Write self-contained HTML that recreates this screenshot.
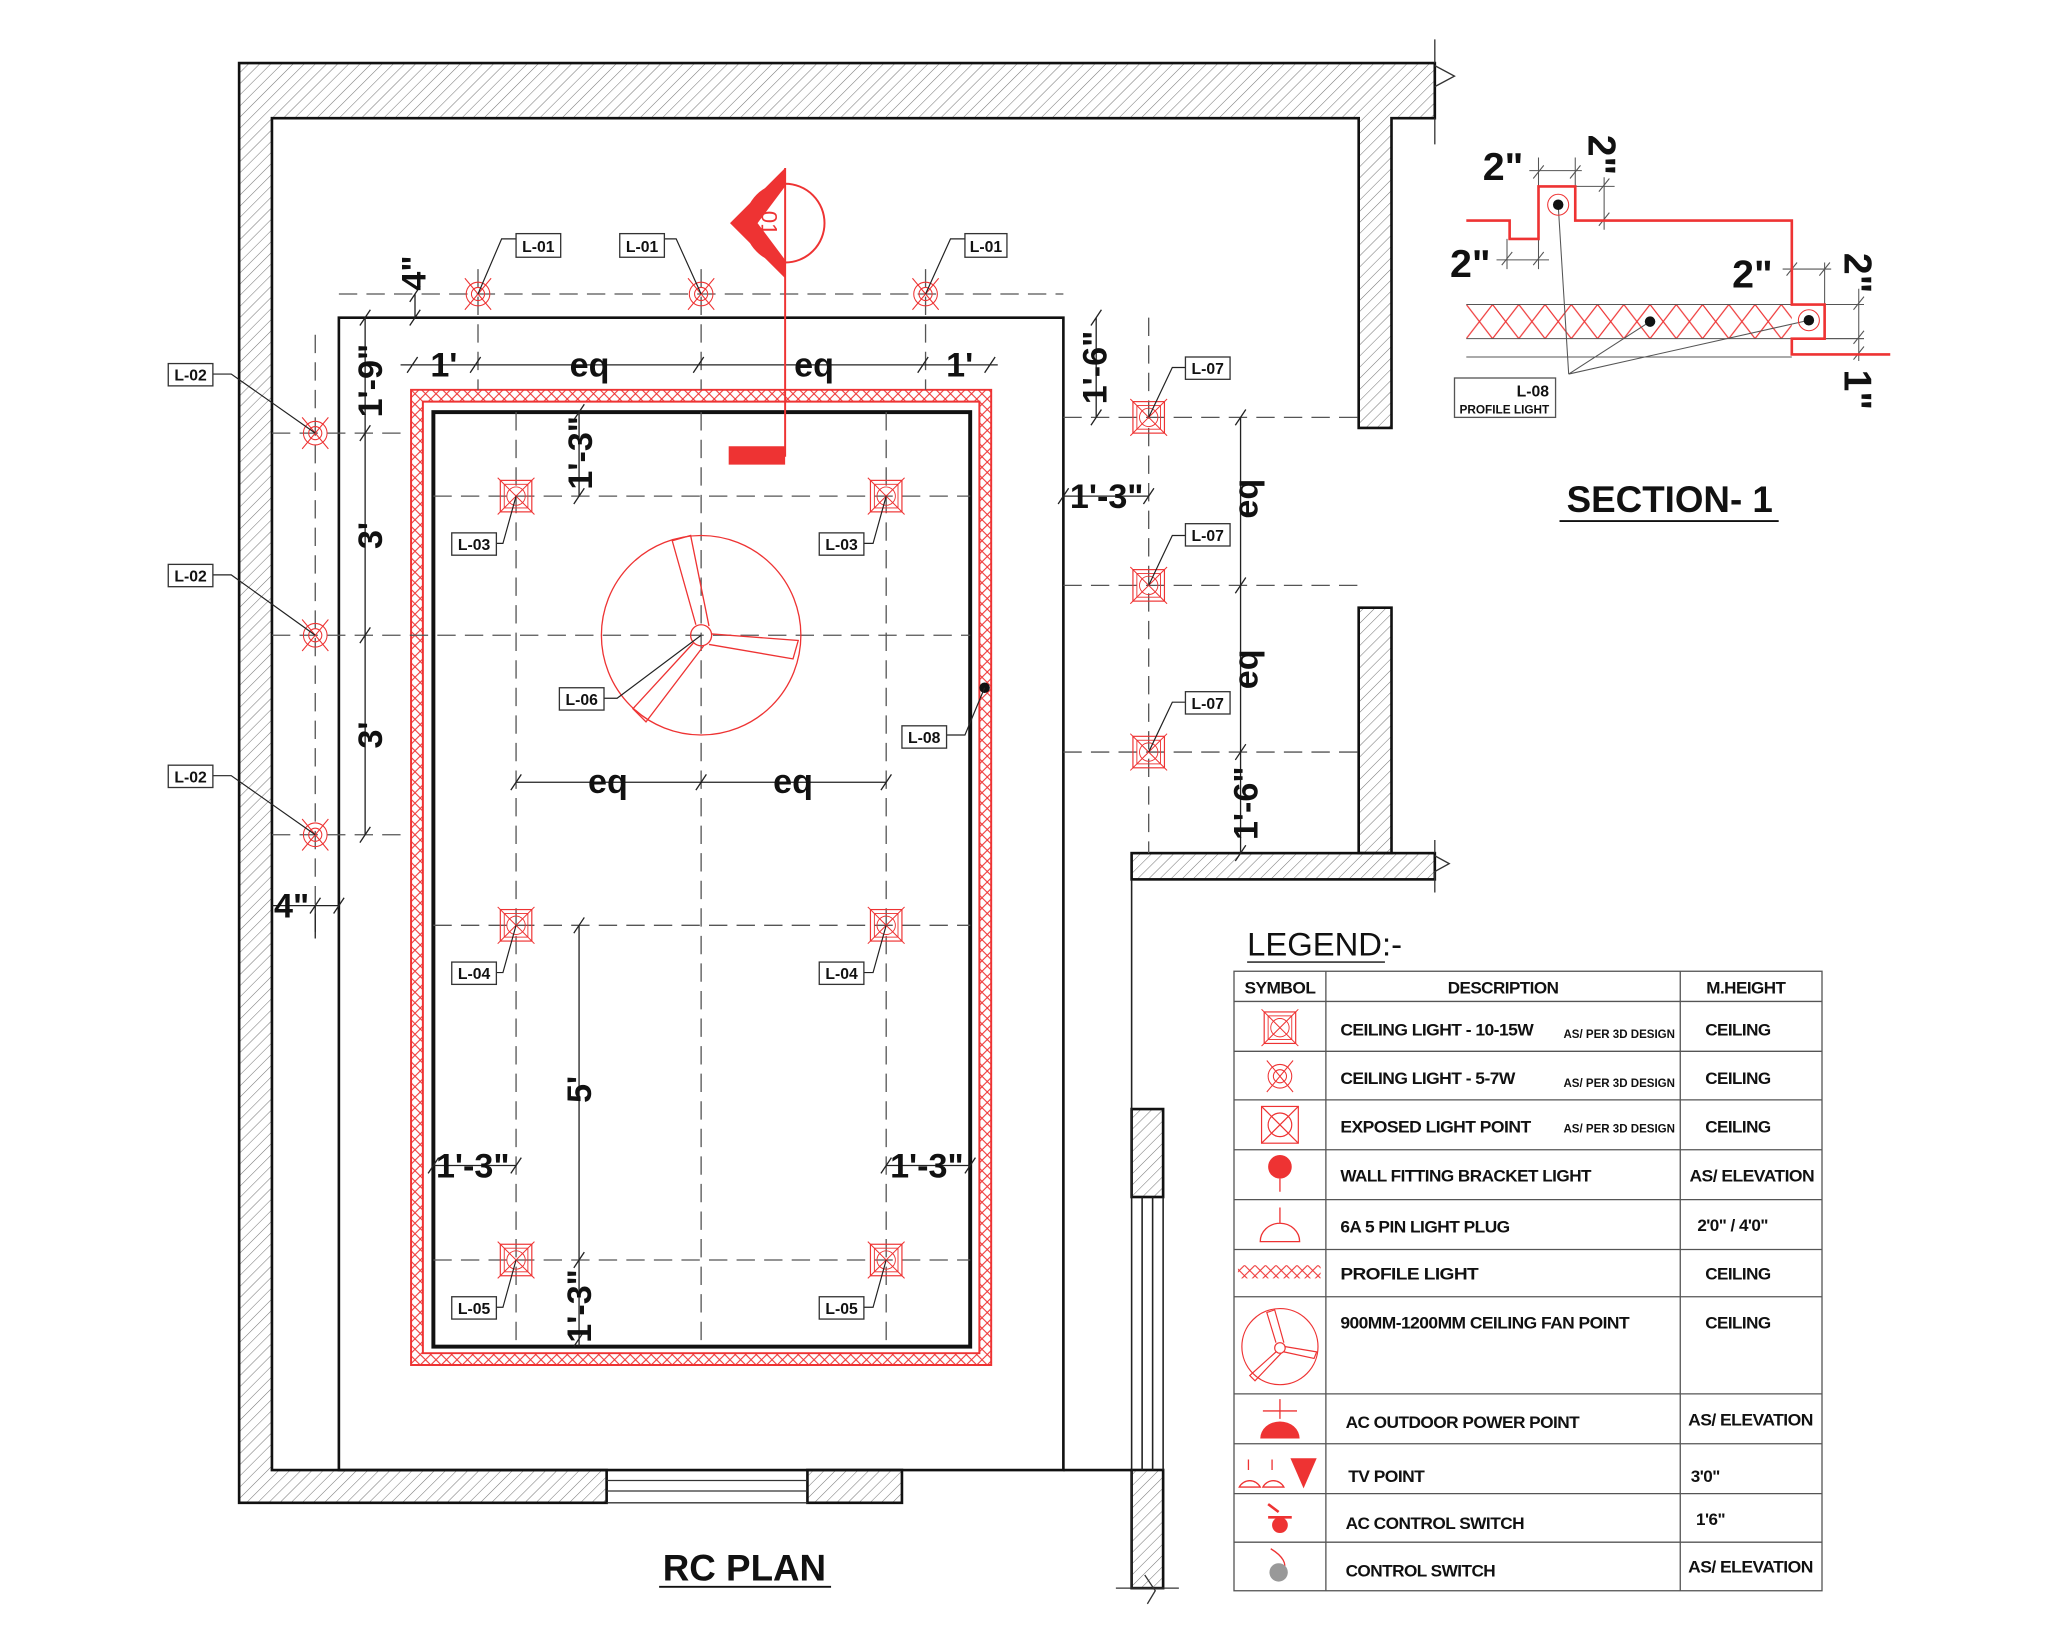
<!DOCTYPE html>
<html><head><meta charset="utf-8"><style>
html,body{margin:0;padding:0;background:#fff}
svg{display:block}
text{font-family:"Liberation Sans",Arial,sans-serif;font-weight:bold;fill:#111}
.d{font-size:26px}
.l{font-size:12px;font-weight:normal}
.t{font-size:13px;letter-spacing:-0.4px}
</style></head><body>
<svg width="2048" height="1638" viewBox="0 0 1560 1248" xmlns="http://www.w3.org/2000/svg">
<defs>
<pattern id="h" width="6" height="6" patternUnits="userSpaceOnUse" patternTransform="rotate(45)">
<line x1="0" y1="0" x2="0" y2="6" stroke="#777" stroke-width="0.8"/></pattern>
<pattern id="x" width="8" height="8" patternUnits="userSpaceOnUse">
<path d="M0 0L8 8M8 0L0 8" stroke="#e33" stroke-width="0.8"/></pattern>
<pattern id="x2" width="20" height="26" patternUnits="userSpaceOnUse" x="1117" y="232">
<path d="M0 0L20 26M20 0L0 26" stroke="#e33" stroke-width="0.9"/></pattern>
<g id="c"><circle r="5" fill="none" stroke="#e33" stroke-width="0.8"/><circle r="9" fill="none" stroke="#e33" stroke-width="0.8"/><path d="M-10 -12L10 12M10 -12L-10 12" stroke="#e33" stroke-width="0.8"/></g>
<g id="s"><rect x="-12" y="-12" width="24" height="24" fill="none" stroke="#e33" stroke-width="0.9"/><rect x="-9" y="-9" width="18" height="18" fill="none" stroke="#e33" stroke-width="0.7"/><circle r="7" fill="none" stroke="#e33" stroke-width="0.7"/><path d="M-14 -14L14 14M14 -14L-14 14" stroke="#e33" stroke-width="0.8"/></g>
</defs>
<rect width="1560" height="1248" fill="#fff"/>
<g fill="url(#h)" stroke="#111" stroke-width="2">
<path d="M182 48H1093V90H1060V326H1035V90H207V1120H462V1145H182Z"/>
<rect x="615" y="1120" width="72" height="25"/>
<rect x="1035" y="463" width="25" height="187"/>
<rect x="862" y="650" width="231" height="20"/>
<rect x="862" y="845" width="24" height="67"/>
<rect x="862" y="1120" width="24" height="90"/>
</g>
<path d="M1093 30V48M1093 50L1108 58L1093 66M1093 90V110M1093 640V650M1093 652L1104 658L1093 664V680" stroke="#333" fill="none" stroke-width="1"/>
<path d="M462 1120H615M462 1128H615M462 1136H615M462 1145H615" stroke="#333" stroke-width="1"/>
<path d="M862 670V1210M870 912V1120M878 912V1120M886 912V1120" stroke="#222" stroke-width="1.2"/>
<path d="M850 1210H898M872 1200L880 1212L874 1222" stroke="#333" fill="none" stroke-width="1"/>
<path d="M258 242H810V1120H258Z" fill="none" stroke="#111" stroke-width="2"/>
<path d="M810 1120H862" stroke="#111" stroke-width="2"/>
<path d="M313 297H755V1040H313Z M322 306V1031H746V306Z" fill="url(#x)" fill-rule="evenodd" stroke="#e33" stroke-width="1.5"/>
<rect x="330" y="314" width="409" height="712" fill="none" stroke="#111" stroke-width="3"/>
<g stroke="#555" stroke-width="1" stroke-dasharray="14 7" fill="none">
<path d="M393 314V1026M534 314V1026M675 314V1026"/>
<path d="M330 378H739M207 484H739M330 705H739M330 960H739"/>
<path d="M258 224H810M240 255V715M207 330H310M207 636H310"/>
<path d="M810 318H1035M810 446H1035M810 573H1035M875 242V650"/>
<path d="M364 205V297M534 205V297M705 205V297"/>
</g>
<g stroke="#222" stroke-width="1" fill="none">
<path d="M305 278H760M278 242V636M441 705V1026M945 318V650M393 596H675M441 314V378M330 888H393M675 888H739M810 378H875M835 242V318M316 224V242M207 690H258M240 690V715"/>
<path d="M358 284l8-12M528 284l8-12M699 284l8-12M750 284l8-12M310 284l8-12M274 248l8-12M274 336l8-12M274 490l8-12M274 642l8-12M437 711l8-12M437 966l8-12M437 1026l8-12M437 320l8-12M437 384l8-12M941 324l8-12M941 452l8-12M941 579l8-12M941 656l8-12M389 602l8-12M530 602l8-12M671 602l8-12M326 894l8-12M389 894l8-12M671 894l8-12M735 894l8-12M806 384l8-12M871 384l8-12M831 248l8-12M831 324l8-12M312 230l8-12M312 248l8-12M236 696l8-12M254 696l8-12"/>
</g>
<g class="d">
<text x="338" y="287" text-anchor="middle">1'</text>
<text x="449" y="287" text-anchor="middle">eq</text>
<text x="620" y="287" text-anchor="middle">eq</text>
<text x="731" y="287" text-anchor="middle">1'</text>
<text x="463" y="604" text-anchor="middle">eq</text>
<text x="604" y="604" text-anchor="middle">eq</text>
<text x="360" y="897" text-anchor="middle">1'-3"</text>
<text x="706" y="897" text-anchor="middle">1'-3"</text>
<text x="843" y="387" text-anchor="middle">1'-3"</text>
<text x="222" y="699" text-anchor="middle">4"</text>
<text transform="translate(324,208) rotate(-90)" text-anchor="middle">4"</text>
<text transform="translate(291,290) rotate(-90)" text-anchor="middle">1'-9"</text>
<text transform="translate(291,408) rotate(-90)" text-anchor="middle">3'</text>
<text transform="translate(291,560) rotate(-90)" text-anchor="middle">3'</text>
<text transform="translate(451,345) rotate(-90)" text-anchor="middle">1'-3"</text>
<text transform="translate(843,280) rotate(-90)" text-anchor="middle">1'-6"</text>
<text transform="translate(958,380) rotate(-90)" text-anchor="middle">eq</text>
<text transform="translate(958,510) rotate(-90)" text-anchor="middle">eq</text>
<text transform="translate(958,612) rotate(-90)" text-anchor="middle">1'-6"</text>
<text transform="translate(450,830) rotate(-90)" text-anchor="middle">5'</text>
<text transform="translate(450,995) rotate(-90)" text-anchor="middle">1'-3"</text>
</g>
<use href="#c" x="364" y="224"/><use href="#c" x="534" y="224"/><use href="#c" x="705" y="224"/>
<use href="#c" x="240" y="330"/><use href="#c" x="240" y="484"/><use href="#c" x="240" y="636"/>
<use href="#s" x="393" y="378"/><use href="#s" x="675" y="378"/>
<use href="#s" x="393" y="705"/><use href="#s" x="675" y="705"/>
<use href="#s" x="393" y="960"/><use href="#s" x="675" y="960"/>
<use href="#s" x="875" y="318"/><use href="#s" x="875" y="446"/><use href="#s" x="875" y="573"/>
<g stroke="#e33" stroke-width="1" fill="none">
<circle cx="534" cy="484" r="76"/><circle cx="534" cy="484" r="8"/>
<path d="M530 476L512 412L526 408L540 477"/>
<path d="M542 483L608 488L604 502L540 491"/>
<path d="M528 490L482 540L492 550L536 492"/>
</g>
<circle cx="598" cy="170" r="30" fill="none" stroke="#e33" stroke-width="1.5"/>
<path d="M598 128L598 212L556 170Z M598 142L598 198L577 170Z" fill="#e33" fill-rule="evenodd"/>
<path d="M598 128V348" stroke="#e33" stroke-width="1.5"/>
<rect x="555" y="340" width="43" height="14" fill="#e33"/>
<text transform="translate(580,170) rotate(90)" text-anchor="middle" style="font-size:17px;fill:#e33;font-weight:normal">01</text>
<circle cx="750" cy="524" r="4" fill="#111"/>
<g stroke="#222" stroke-width="0.9" fill="none">
<path d="M364 224L382 182H393M534 224L515 182H506M705 224L724 182H735"/>
<path d="M240 330L176 285H162M240 484L176 438H162M240 636L176 591H162"/>
<path d="M875 318L893 280H903M875 446L893 408H903M875 573L893 535H903"/>
<path d="M393 378L383 414H378M675 378L665 414H658M393 705L383 741H378M675 705L665 741H658M393 960L383 996H378M675 960L665 996H658"/>
<path d="M534 484L470 532H460M750 524L735 560H721"/>
</g>
<g fill="#fff" stroke="#333" stroke-width="1">
<rect x="393" y="178" width="34" height="18"/><rect x="472" y="178" width="34" height="18"/><rect x="735" y="178" width="32" height="18"/>
<rect x="128" y="277" width="34" height="17"/><rect x="128" y="430" width="34" height="17"/><rect x="128" y="583" width="34" height="17"/>
<rect x="903" y="272" width="34" height="17"/><rect x="903" y="399" width="34" height="17"/><rect x="903" y="527" width="34" height="17"/>
<rect x="344" y="406" width="34" height="17"/><rect x="624" y="406" width="34" height="17"/>
<rect x="344" y="733" width="34" height="17"/><rect x="624" y="733" width="34" height="17"/>
<rect x="344" y="988" width="34" height="17"/><rect x="624" y="988" width="34" height="17"/>
<rect x="426" y="524" width="34" height="17"/><rect x="687" y="553" width="34" height="17"/>
</g>
<g class="l" text-anchor="middle">
<text x="410" y="192">L-01</text><text x="489" y="192">L-01</text><text x="751" y="192">L-01</text>
<text x="145" y="290">L-02</text><text x="145" y="443">L-02</text><text x="145" y="596">L-02</text>
<text x="920" y="285">L-07</text><text x="920" y="412">L-07</text><text x="920" y="540">L-07</text>
<text x="361" y="419">L-03</text><text x="641" y="419">L-03</text>
<text x="361" y="746">L-04</text><text x="641" y="746">L-04</text>
<text x="361" y="1001">L-05</text><text x="641" y="1001">L-05</text>
<text x="443" y="537">L-06</text><text x="704" y="566">L-08</text>
</g>
<text x="567" y="1204" text-anchor="middle" style="font-size:28px">RC PLAN</text>
<path d="M502 1209H633" stroke="#111" stroke-width="1.5"/>
<rect x="1117" y="232" width="248" height="26" fill="url(#x2)"/>
<g stroke="#555" stroke-width="0.8" fill="none">
<path d="M1117 232H1420M1117 258H1420M1117 272H1365"/>
<path d="M1172 120V142M1200 120V142M1165 130H1205M1200 142H1230M1200 168H1230M1222 135V175M1148 182V205M1172 182V205M1140 198H1180M1365 200V232M1390 200V232M1358 205H1395M1390 232H1420M1390 258H1420M1416 220V275"/>
<path d="M1168 136l8-10M1196 136l8-10M1218 146l8-10M1218 172l8-10M1144 202l8-10M1168 202l8-10M1361 210l8-10M1386 210l8-10M1412 236l8-10M1412 262l8-10M1412 274l8-10"/>
<path d="M1187 156L1195 285M1257 245L1195 285M1378 244L1195 285"/>
</g>
<path d="M1117 168H1150V182H1172V142H1200V168H1365V232H1390V258H1365V270H1440" fill="none" stroke="#e33" stroke-width="2"/>
<circle cx="1187" cy="156" r="8" fill="none" stroke="#e33" stroke-width="0.8"/>
<circle cx="1378" cy="244" r="8" fill="none" stroke="#e33" stroke-width="0.8"/>
<circle cx="1187" cy="156" r="4" fill="#111"/><circle cx="1378" cy="244" r="4" fill="#111"/><circle cx="1257" cy="245" r="4" fill="#111"/>
<rect x="1108" y="288" width="77" height="30" fill="#fff" stroke="#555"/>
<text x="1180" y="302" text-anchor="end" style="font-size:12px">L-08</text>
<text x="1146" y="315" text-anchor="middle" style="font-size:9px">PROFILE LIGHT</text>
<g style="font-size:30px">
<text x="1145" y="137" text-anchor="middle">2"</text>
<text x="1120" y="211" text-anchor="middle">2"</text>
<text x="1335" y="219" text-anchor="middle">2"</text>
<text transform="translate(1210,118) rotate(90)" text-anchor="middle">2"</text>
<text transform="translate(1405,208) rotate(90)" text-anchor="middle">2"</text>
<text transform="translate(1405,297) rotate(90)" text-anchor="middle">1"</text>
</g>
<text x="1272" y="390" text-anchor="middle" style="font-size:28px">SECTION- 1</text>
<path d="M1188 397H1355" stroke="#111" stroke-width="1.5"/>
<text x="950" y="728" style="font-size:25px;font-weight:normal">LEGEND:-</text>
<path d="M950 733H1055" stroke="#111"/>
<g stroke="#555" stroke-width="1" fill="none">
<rect x="940" y="740" width="448" height="472"/>
<path d="M1010 740V1212M1280 740V1212"/>
<path d="M940 763H1388M940 801H1388M940 838H1388M940 876H1388M940 914H1388M940 952H1388M940 988H1388M940 1062H1388M940 1100H1388M940 1138H1388M940 1175H1388"/>
</g>
<g class="t">
<text x="975" y="757" text-anchor="middle" textLength="54" lengthAdjust="spacingAndGlyphs">SYMBOL</text>
<text x="1145" y="757" text-anchor="middle">DESCRIPTION</text>
<text x="1330" y="757" text-anchor="middle">M.HEIGHT</text>
<text x="1021" y="789" textLength="147" lengthAdjust="spacingAndGlyphs">CEILING LIGHT - 10-15W</text>
<text x="1021" y="826" textLength="133" lengthAdjust="spacingAndGlyphs">CEILING LIGHT - 5-7W</text>
<text x="1021" y="863" textLength="145" lengthAdjust="spacingAndGlyphs">EXPOSED LIGHT POINT</text>
<text x="1021" y="900" textLength="191" lengthAdjust="spacingAndGlyphs">WALL FITTING BRACKET LIGHT</text>
<text x="1021" y="939" textLength="129" lengthAdjust="spacingAndGlyphs">6A 5 PIN LIGHT PLUG</text>
<text x="1021" y="975" textLength="105" lengthAdjust="spacingAndGlyphs">PROFILE  LIGHT</text>
<text x="1021" y="1012" textLength="220" lengthAdjust="spacingAndGlyphs">900MM-1200MM CEILING FAN POINT</text>
<text x="1025" y="1088" textLength="178" lengthAdjust="spacingAndGlyphs">AC OUTDOOR POWER POINT</text>
<text x="1027" y="1129" textLength="58" lengthAdjust="spacingAndGlyphs">TV POINT</text>
<text x="1025" y="1165" textLength="136" lengthAdjust="spacingAndGlyphs">AC CONTROL SWITCH</text>
<text x="1025" y="1201" textLength="114" lengthAdjust="spacingAndGlyphs">CONTROL SWITCH</text>
<text x="1299" y="789">CEILING</text><text x="1299" y="826">CEILING</text><text x="1299" y="863">CEILING</text>
<text x="1287" y="900" textLength="95" lengthAdjust="spacingAndGlyphs">AS/ ELEVATION</text>
<text x="1293" y="938">2'0" / 4'0"</text>
<text x="1299" y="975">CEILING</text><text x="1299" y="1012">CEILING</text>
<text x="1286" y="1086" textLength="95" lengthAdjust="spacingAndGlyphs">AS/ ELEVATION</text>
<text x="1288" y="1129">3'0"</text>
<text x="1292" y="1162">1'6"</text>
<text x="1286" y="1198" textLength="95" lengthAdjust="spacingAndGlyphs">AS/ ELEVATION</text>
</g>
<g style="font-size:9px">
<text x="1191" y="791" textLength="85" lengthAdjust="spacingAndGlyphs">AS/ PER 3D DESIGN</text><text x="1191" y="828" textLength="85" lengthAdjust="spacingAndGlyphs">AS/ PER 3D DESIGN</text><text x="1191" y="863" textLength="85" lengthAdjust="spacingAndGlyphs">AS/ PER 3D DESIGN</text>
</g>
<use href="#s" x="975" y="783"/>
<use href="#c" x="975" y="820"/>
<g stroke="#e33" stroke-width="0.9" fill="none"><rect x="961" y="843" width="28" height="28"/><circle cx="975" cy="857" r="9"/><path d="M961 843L989 871M989 843L961 871"/></g>
<circle cx="975" cy="889" r="9" fill="#e33"/><path d="M975 898V908" stroke="#e33"/>
<path d="M975 920V932M960 946A15 14 0 0 1 990 946Z" stroke="#e33" fill="none"/>
<rect x="943" y="964" width="63" height="10" fill="url(#x)"/>
<g stroke="#e33" stroke-width="0.9" fill="none"><circle cx="975" cy="1026" r="29"/><circle cx="975" cy="1027" r="4"/><path d="M972 1023L965 1000L971 998L978 1023M979 1026L1003 1030L1001 1035L978 1030M972 1030L952 1048L956 1052L976 1031"/></g>
<path d="M975 1066V1081M962 1075H988" stroke="#e33"/><path d="M960 1096A15 13 0 0 1 990 1096Z" fill="#e33"/>
<path d="M951 1112V1120M944 1133A9 9 0 0 1 960 1133ZM969 1112V1120M962 1133A9 9 0 0 1 978 1133Z" stroke="#e33" fill="none"/>
<path d="M983 1111H1003L993 1134Z" fill="#e33"/>
<path d="M966 1146L974 1152M966 1156H984" stroke="#e33" stroke-width="2"/><circle cx="975" cy="1162" r="6" fill="#e33"/>
<path d="M968 1180C978 1186 980 1192 978 1196" stroke="#e33" fill="none"/><circle cx="974" cy="1198" r="7" fill="#999"/>
</svg>
</body></html>
